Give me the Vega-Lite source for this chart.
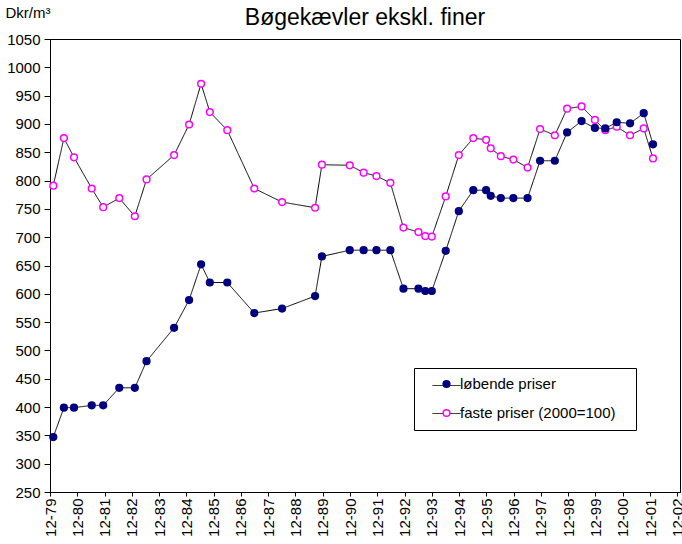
{
  "$schema": "https://vega.github.io/schema/vega-lite/v6.json",
  "autosize": {"type": "none"},
  "padding": {"left": 50, "top": 39, "right": 2, "bottom": 52},
  "width": 630,
  "height": 453,
  "background": "white",
  "title": {"text": "Bøgekævler ekskl. finer", "fontSize": 23, "font": "Liberation Sans", "fontWeight": "normal", "anchor": "middle", "frame": "group", "baseline": "middle", "offset": -36, "color": "black"},
  "config": {
    "view": {"stroke": "black", "strokeWidth": 1},
    "axis": {"grid": false, "labelFont": "Liberation Sans", "titleFont": "Liberation Sans", "domainColor": "black", "tickColor": "black", "labelColor": "black", "titleColor": "black", "titleFontWeight": "normal"},
    "legend": {"labelFont": "Liberation Sans", "labelColor": "black"}
  },
  "data": {"values": [
    {"t": 0.12, "serie": "faste priser (2000=100)", "pris": 791},
    {"t": 0.51, "serie": "faste priser (2000=100)", "pris": 875},
    {"t": 0.88, "serie": "faste priser (2000=100)", "pris": 841},
    {"t": 1.53, "serie": "faste priser (2000=100)", "pris": 786},
    {"t": 1.95, "serie": "faste priser (2000=100)", "pris": 753},
    {"t": 2.54, "serie": "faste priser (2000=100)", "pris": 769},
    {"t": 3.11, "serie": "faste priser (2000=100)", "pris": 737},
    {"t": 3.54, "serie": "faste priser (2000=100)", "pris": 802},
    {"t": 4.55, "serie": "faste priser (2000=100)", "pris": 845},
    {"t": 5.10, "serie": "faste priser (2000=100)", "pris": 899},
    {"t": 5.54, "serie": "faste priser (2000=100)", "pris": 971},
    {"t": 5.86, "serie": "faste priser (2000=100)", "pris": 921},
    {"t": 6.50, "serie": "faste priser (2000=100)", "pris": 889},
    {"t": 7.49, "serie": "faste priser (2000=100)", "pris": 786},
    {"t": 8.51, "serie": "faste priser (2000=100)", "pris": 762},
    {"t": 9.72, "serie": "faste priser (2000=100)", "pris": 752},
    {"t": 9.97, "serie": "faste priser (2000=100)", "pris": 828},
    {"t": 10.99, "serie": "faste priser (2000=100)", "pris": 827},
    {"t": 11.50, "serie": "faste priser (2000=100)", "pris": 814},
    {"t": 11.97, "serie": "faste priser (2000=100)", "pris": 808},
    {"t": 12.48, "serie": "faste priser (2000=100)", "pris": 796},
    {"t": 12.96, "serie": "faste priser (2000=100)", "pris": 717},
    {"t": 13.51, "serie": "faste priser (2000=100)", "pris": 709},
    {"t": 13.76, "serie": "faste priser (2000=100)", "pris": 702},
    {"t": 14.00, "serie": "faste priser (2000=100)", "pris": 701},
    {"t": 14.51, "serie": "faste priser (2000=100)", "pris": 772},
    {"t": 14.99, "serie": "faste priser (2000=100)", "pris": 845},
    {"t": 15.52, "serie": "faste priser (2000=100)", "pris": 875},
    {"t": 15.99, "serie": "faste priser (2000=100)", "pris": 872},
    {"t": 16.16, "serie": "faste priser (2000=100)", "pris": 857},
    {"t": 16.53, "serie": "faste priser (2000=100)", "pris": 843},
    {"t": 16.99, "serie": "faste priser (2000=100)", "pris": 837},
    {"t": 17.51, "serie": "faste priser (2000=100)", "pris": 823},
    {"t": 17.97, "serie": "faste priser (2000=100)", "pris": 891},
    {"t": 18.51, "serie": "faste priser (2000=100)", "pris": 880},
    {"t": 18.96, "serie": "faste priser (2000=100)", "pris": 927},
    {"t": 19.49, "serie": "faste priser (2000=100)", "pris": 931},
    {"t": 19.98, "serie": "faste priser (2000=100)", "pris": 907},
    {"t": 20.36, "serie": "faste priser (2000=100)", "pris": 889},
    {"t": 20.78, "serie": "faste priser (2000=100)", "pris": 895},
    {"t": 21.27, "serie": "faste priser (2000=100)", "pris": 880},
    {"t": 21.77, "serie": "faste priser (2000=100)", "pris": 892},
    {"t": 22.11, "serie": "faste priser (2000=100)", "pris": 839},
    {"t": 0.12, "serie": "løbende priser", "pris": 347},
    {"t": 0.51, "serie": "løbende priser", "pris": 399},
    {"t": 0.88, "serie": "løbende priser", "pris": 399},
    {"t": 1.53, "serie": "løbende priser", "pris": 403},
    {"t": 1.95, "serie": "løbende priser", "pris": 403},
    {"t": 2.54, "serie": "løbende priser", "pris": 434},
    {"t": 3.11, "serie": "løbende priser", "pris": 434},
    {"t": 3.54, "serie": "løbende priser", "pris": 481},
    {"t": 4.55, "serie": "løbende priser", "pris": 540},
    {"t": 5.10, "serie": "løbende priser", "pris": 589},
    {"t": 5.54, "serie": "løbende priser", "pris": 652},
    {"t": 5.86, "serie": "løbende priser", "pris": 620},
    {"t": 6.50, "serie": "løbende priser", "pris": 620},
    {"t": 7.49, "serie": "løbende priser", "pris": 566},
    {"t": 8.51, "serie": "løbende priser", "pris": 574},
    {"t": 9.72, "serie": "løbende priser", "pris": 596},
    {"t": 9.97, "serie": "løbende priser", "pris": 666},
    {"t": 10.99, "serie": "løbende priser", "pris": 677},
    {"t": 11.50, "serie": "løbende priser", "pris": 677},
    {"t": 11.97, "serie": "løbende priser", "pris": 677},
    {"t": 12.48, "serie": "løbende priser", "pris": 677},
    {"t": 12.96, "serie": "løbende priser", "pris": 609},
    {"t": 13.51, "serie": "løbende priser", "pris": 609},
    {"t": 13.76, "serie": "løbende priser", "pris": 605},
    {"t": 14.00, "serie": "løbende priser", "pris": 605},
    {"t": 14.51, "serie": "løbende priser", "pris": 676},
    {"t": 14.99, "serie": "løbende priser", "pris": 746},
    {"t": 15.52, "serie": "løbende priser", "pris": 783},
    {"t": 15.99, "serie": "løbende priser", "pris": 783},
    {"t": 16.16, "serie": "løbende priser", "pris": 773},
    {"t": 16.53, "serie": "løbende priser", "pris": 769},
    {"t": 16.99, "serie": "løbende priser", "pris": 769},
    {"t": 17.51, "serie": "løbende priser", "pris": 769},
    {"t": 17.97, "serie": "løbende priser", "pris": 835},
    {"t": 18.51, "serie": "løbende priser", "pris": 835},
    {"t": 18.96, "serie": "løbende priser", "pris": 885},
    {"t": 19.49, "serie": "løbende priser", "pris": 905},
    {"t": 19.98, "serie": "løbende priser", "pris": 893},
    {"t": 20.36, "serie": "løbende priser", "pris": 892},
    {"t": 20.78, "serie": "løbende priser", "pris": 903},
    {"t": 21.27, "serie": "løbende priser", "pris": 901},
    {"t": 21.77, "serie": "løbende priser", "pris": 919},
    {"t": 22.11, "serie": "løbende priser", "pris": 864}
  ]},
  "encoding": {
    "x": {"field": "t", "type": "quantitative", "scale": {"domain": [0, 23.1], "nice": false, "zero": false},
      "axis": {"title": null, "values": [0,1,2,3,4,5,6,7,8,9,10,11,12,13,14,15,16,17,18,19,20,21,22,23],
        "labelExpr": "'12-' + slice('0' + ((79 + datum.value) % 100), -2)", "labelAngle": -90, "labelFontSize": 15, "tickSize": 4, "labelPadding": 2, "labelOverlap": false, "labelBound": false, "labelFlush": false}},
    "y": {"field": "pris", "type": "quantitative", "scale": {"domain": [250, 1050], "nice": false, "zero": false},
      "axis": {"values": [250,300,350,400,450,500,550,600,650,700,750,800,850,900,950,1000,1050], "format": "d", "labelFontSize": 15, "tickSize": 6, "labelPadding": 4, "labelOverlap": false, "labelFlush": false,
        "title": "Dkr/m³", "titleAngle": 0, "titleAlign": "left", "titleBaseline": "middle", "titleX": -45, "titleY": -27, "titleFontSize": 15}}
  },
  "layer": [
    {
      "mark": {"type": "line", "color": "black", "strokeWidth": 1},
      "encoding": {
        "detail": {"field": "serie", "type": "nominal"},
        "strokeDash": {"field": "serie", "type": "nominal",
          "scale": {"domain": ["faste priser (2000=100)", "løbende priser"], "range": [[1, 0], [1, 0]]},
          "legend": {"orient": "none", "legendX": 364, "legendY": 329, "title": null, "symbolType": "stroke", "symbolStrokeColor": "black", "symbolStrokeWidth": 1, "symbolSize": 784, "padding": 3, "symbolOffset": 15, "rowPadding": 8, "labelOpacity": 0, "zindex": 0, "strokeColor": null}}
      }
    },
    {
      "mark": {"type": "point", "filled": false, "shape": "circle", "size": 45, "strokeWidth": 1.5, "opacity": 1},
      "encoding": {
        "fill": {"field": "serie", "type": "nominal", "scale": {"domain": ["løbende priser", "faste priser (2000=100)"], "range": ["#000080", "#ffffff"]},
          "legend": {"orient": "none", "legendX": 364, "legendY": 329, "title": "\u00a0", "titleOrient": "right", "titleFontSize": 2, "titlePadding": 12, "strokeColor": "black", "padding": 8.5, "symbolOffset": 16.5, "labelOffset": 6, "rowPadding": 13, "labelFontSize": 15, "symbolSize": 45, "symbolStrokeWidth": 1.5, "symbolType": "circle", "zindex": 1}},
        "stroke": {"field": "serie", "type": "nominal", "scale": {"domain": ["løbende priser", "faste priser (2000=100)"], "range": ["#000080", "#ff00ff"]}}
      }
    }
  ]
}
